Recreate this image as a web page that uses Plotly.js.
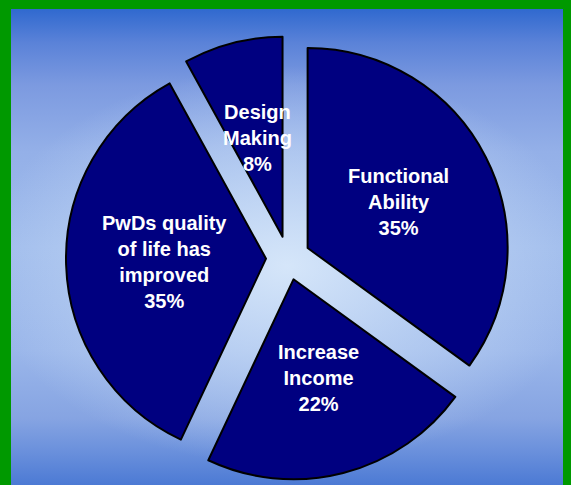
<!DOCTYPE html>
<html>
<head>
<meta charset="utf-8">
<script src="https://cdn.plot.ly/plotly-3.0.1.min.js"></script>
<style>
  html, body { margin: 0; padding: 0; width: 571px; height: 485px; overflow: hidden; background: #009900; }
  #bg {
    position: absolute; left: 11px; top: 9px; width: 552px; height: 476px;
    background:
      radial-gradient(ellipse 55% 42% at 50% 54%, rgba(216,232,250,0.95) 0%, rgba(200,220,246,0.6) 50%, rgba(200,220,246,0) 100%),
      linear-gradient(to bottom, #3069cf 0%, #5a82d8 7%, #7c9ae0 16%, #94b0e8 30%, #a0bcec 50%, #9ab6ea 72%, #86a4e2 86%, #6a90dc 93%, #4c7ad4 100%);
  }
  #chart { position: absolute; left: 0; top: 0; width: 571px; height: 485px; }
</style>
</head>
<body>
<div id="bg"></div>
<div id="chart"></div>
<script>
const categories = ["Functional Ability", "Increase Income", "PwDs quality of life has improved", "Design Making"];
const labelLines = ["Functional<br>Ability", "Increase<br>Income", "PwDs quality<br>of life has<br>improved", "Design<br>Making"];
const values = [35, 22, 35, 8];
const pulls = [0.11, 0.11, 0.11, 0.11];

const W = 571, H = 485;
const domX = [0.1156, 0.8932];
const domY = [0.0103, 0.9258];

// label placement derived from the pie's own angles
const total = values.reduce((a, b) => a + b, 0);
const boxW = W * (domX[1] - domX[0]), boxH = H * (domY[1] - domY[0]);
const r = Math.min(boxW, boxH) / (2 + 2 * Math.max(...pulls));
const cx = W * (domX[0] + domX[1]) / 2;
const cy = H * (1 - domY[0]) - boxH / 2;
let cum = 0;
const annotations = values.map((v, i) => {
  const a = (cum + v / 2) / total * 2 * Math.PI;
  cum += v;
  const d = r * 0.62;
  const px = cx + d * Math.sin(a);
  const py = cy - d * Math.cos(a);
  return {
    x: px / W, y: 1 - py / H, xref: "paper", yref: "paper",
    xanchor: "center", yanchor: "middle", showarrow: false, align: "center",
    text: labelLines[i] + "<br>" + v + "%",
    font: { family: "Liberation Sans, Arial, sans-serif", size: 20, color: "#ffffff", weight: "bold" }
  };
});

const trace = {
  type: "pie",
  labels: categories,
  values: values,
  sort: false,
  direction: "clockwise",
  rotation: 0,
  pull: pulls,
  textinfo: "none",
  hoverinfo: "label+percent",
  marker: { colors: ["#000080", "#000080", "#000080", "#000080"], line: { color: "#000000", width: 2 } },
  domain: { x: domX, y: domY }
};

Plotly.newPlot("chart", [trace], {
  width: W, height: H,
  margin: { l: 0, r: 0, t: 0, b: 0 },
  paper_bgcolor: "rgba(0,0,0,0)",
  plot_bgcolor: "rgba(0,0,0,0)",
  showlegend: false,
  annotations: annotations
}, { displayModeBar: false, staticPlot: true });
</script>
</body>
</html>
